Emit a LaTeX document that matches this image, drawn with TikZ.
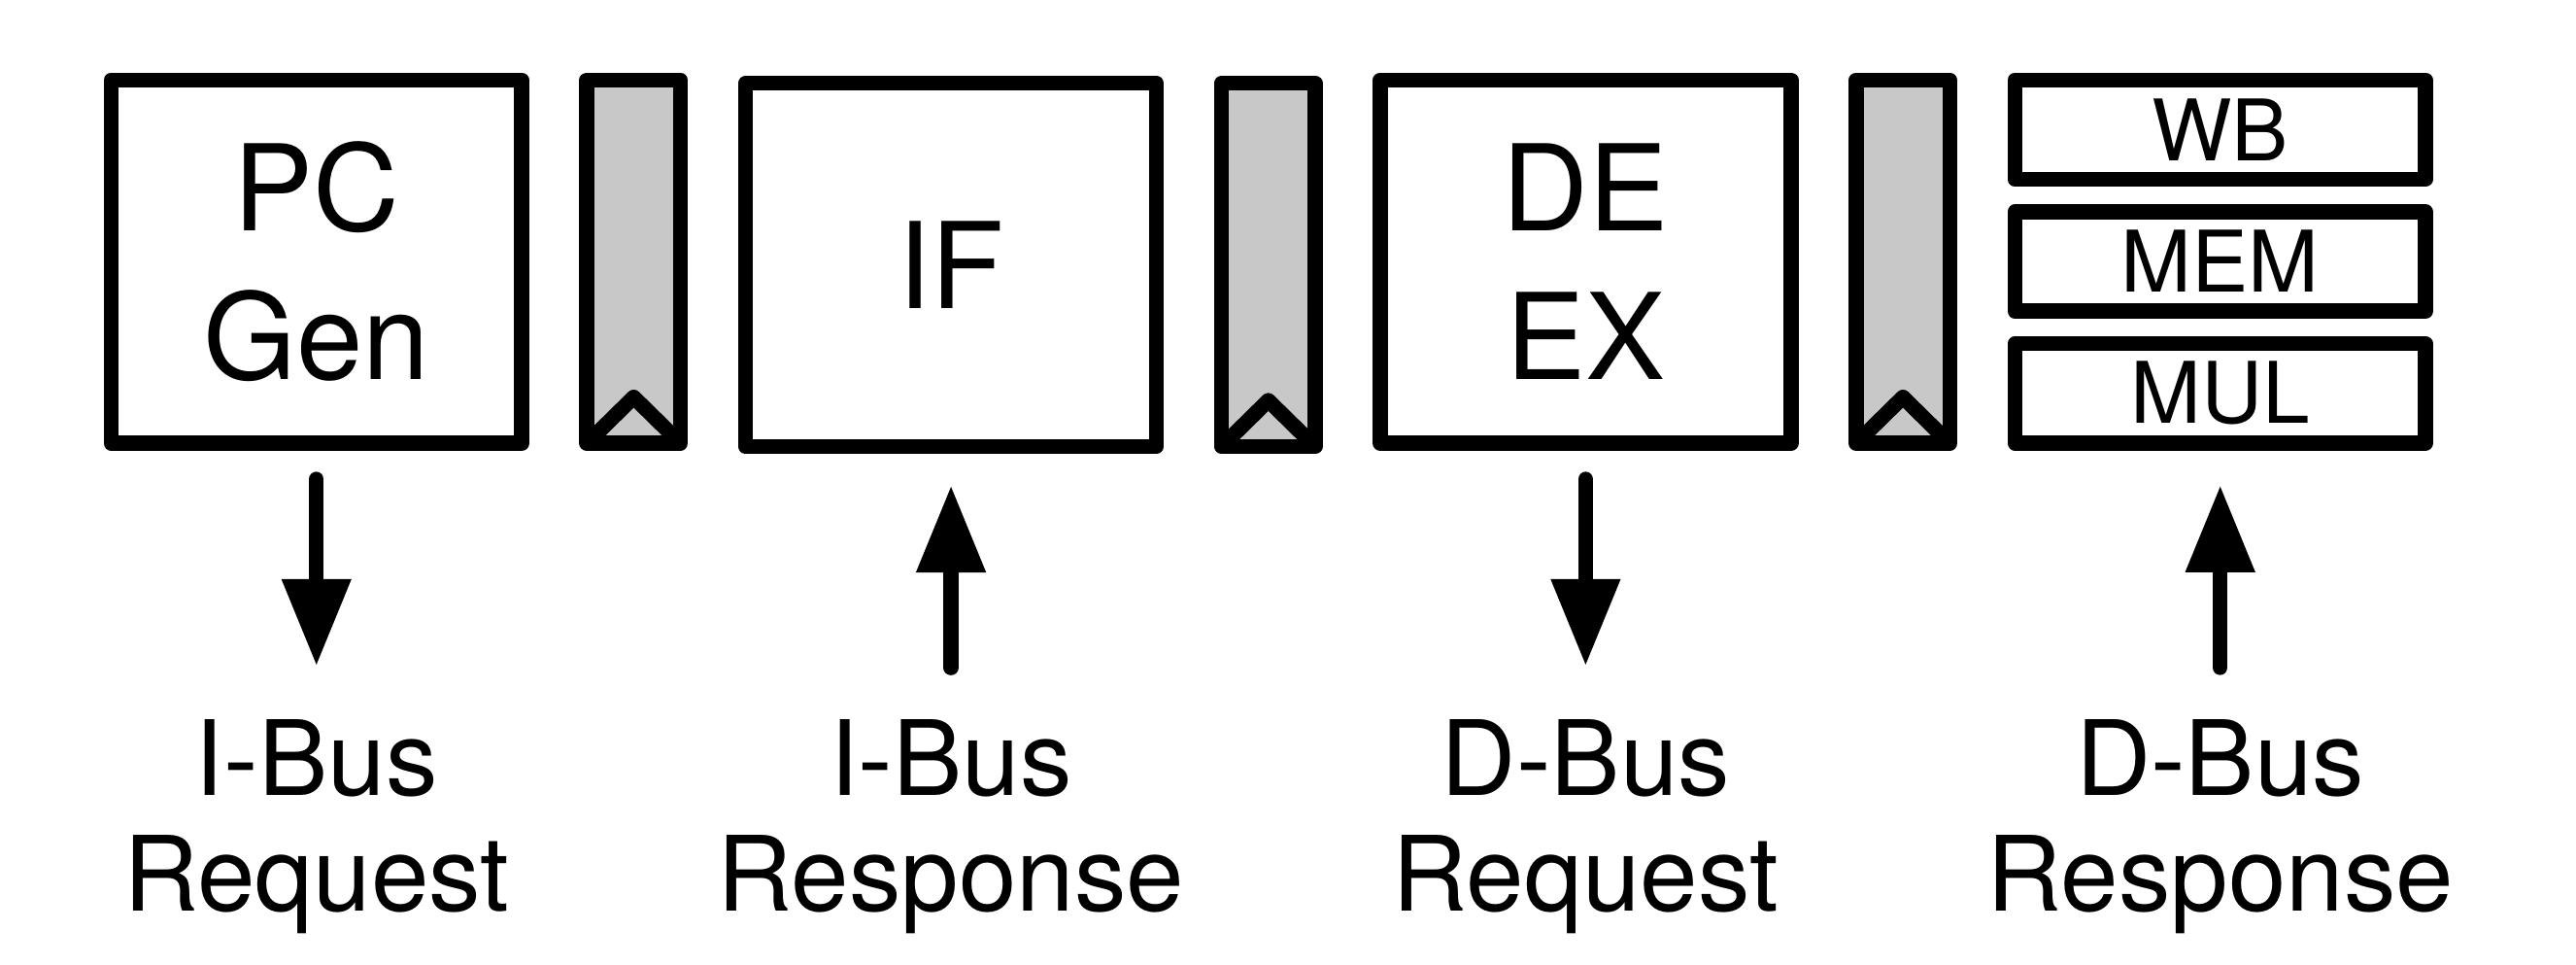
\documentclass[tikz,border=0pt]{standalone}
\usepackage{fontspec}
\setmainfont{TeX Gyre Heros}
\usetikzlibrary{positioning,arrows.meta}
\definecolor{latchgray}{RGB}{200,200,200}

\begin{document}
\begin{tikzpicture}[
scale = 1,
stage/.style={
  draw,
  line width=2.6pt,
  line join=round,
  minimum width=2.50cm,
  minimum height=2.21cm,
  align=center,
  font=\fontsize{20.7}{25.6}\selectfont
  },
latch/.style={
  draw,
  fill=latchgray,
  line width=2.6pt,
  line join=round,
  minimum width=0.57cm,
  minimum height=2.21cm,
  inner sep=0pt
  },
unit/.style={
  draw,
  line width=2.6pt,
  line join=round,
  minimum width=2.50cm,
  minimum height=0.604cm,
  inner sep=0pt,
  font=\fontsize{14.7}{16}\selectfont
  },
bus/.style={
  align=center,
  inner sep=0pt,
  font=\fontsize{18}{20}\selectfont
  },
link/.style={
  line width=2.6pt,
  line cap=round
  },
>={Triangle[length=5.3mm,width=4mm]},
node distance=0.305cm
]

\useasboundingbox (0,0) rectangle (15.68,5.87);

% stages and pipeline latches
\node[stage] (pcgen) at (1.926,4.278) {PC\\Gen};
\node[latch, right=of pcgen] (r1) {};
\node[stage, right=of r1, yshift=-0.02cm] (fetch) {IF};
\node[latch, right=of fetch] (r2) {};
\node[stage, right=of r2, yshift=0.02cm] (deex) {DE\\EX};
\node[latch, right=of deex] (r3) {};

\node[unit, below right=0cm and 0.305cm of r3.north east] (wb) {WB};
\node[unit, below=0.107cm of wb] (mem) {MEM};
\node[unit, below=0.107cm of mem] (mul) {MUL};

\foreach \r in {r1,r2,r3}
  \draw[line width=2.6pt, line join=round] ([shift={(0.046,0.046)}]\r.south west) -- ([yshift=0.326cm]\r.south) -- ([shift={(-0.046,0.046)}]\r.south east);

% bus labels
\node[bus, below=1.63cm of pcgen] (ireq) {I-Bus\\Request};
\node[bus, below=1.61cm of fetch] (iresp) {I-Bus\\Response};
\node[bus, below=1.63cm of deex] (dreq) {D-Bus\\Request};
\node[bus, below=1.63cm of mul] (dresp) {D-Bus\\Response};

\draw[link][->, shorten <=0.173cm, shorten >=0.32cm] (pcgen.south) -- (ireq.north);
\draw[link][->, shorten <=0.31cm, shorten >=0.19cm] (iresp.north) -- (fetch.south);
\draw[link][->, shorten <=0.173cm, shorten >=0.32cm] (deex.south) -- (dreq.north);
\draw[link][->, shorten <=0.31cm, shorten >=0.21cm] (dresp.north) -- (mul.south);

\end{tikzpicture}
\end{document}
